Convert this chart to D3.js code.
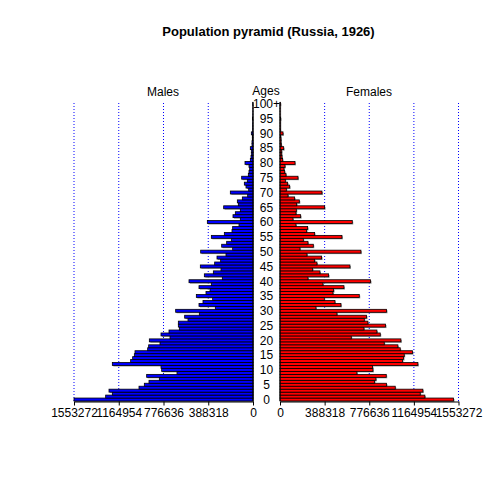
<!DOCTYPE html>
<html><head><meta charset="utf-8">
<script src="https://cdn.jsdelivr.net/npm/d3@7"></script>
<style>body{margin:0;background:#fff} svg{display:block} text{font-family:"Liberation Sans",Arial,Helvetica,sans-serif;}</style>
</head><body>
<svg id="c" width="504" height="504"></svg>
<script>
const title = "Population pyramid (Russia, 1926)";
const ages = d3.range(0, 101);
const ageLabelAges = d3.range(0, 101, 5);
const ageLabels = ageLabelAges.map(a => a === 100 ? "100+" : String(a));
const males = [1553272, 1278485, 1220635, 1249560, 989235, 942955, 902460, 812793, 922708, 659490,
 792545, 798330, 1220635, 1061548, 1044193, 1029730, 1023945, 914030, 905353, 807008,
 899568, 720233, 798330, 728910, 639243, 647920, 647920, 564038, 592963, 465693,
 671060, 326853, 468585, 433875, 349993, 491725, 407843, 373133, 468585, 361563,
 555360, 266110, 422305, 344208, 277680, 457015, 332638, 280573, 312390, 234293,
 454123, 176443, 271895, 228508, 188013, 361563, 248755, 182228, 176443, 121485,
 396273, 109915, 173550, 153303, 109915, 254540, 127270, 135948, 92560, 46280,
 196690, 37603, 60743, 75205, 49173, 98345, 40500, 34700, 28900, 34700,
 69420, 23140, 17355, 14460, 14460, 23140, 8680, 8680, 5785, 5785,
 14460, 2890, 2890, 2890, 2000, 4300, 1500, 1200, 1000, 800, 2500];
const females = [1509858, 1260630, 1220058, 1243242, 1002708, 927360, 823032, 834624, 924462, 669438,
 808542, 805644, 1199772, 1066464, 1075158, 1080954, 1153404, 1046178, 1025892, 907074,
 1051974, 620172, 872298, 843318, 730296, 918666, 765072, 733194, 753480, 495558,
 927360, 312984, 530334, 478170, 385434, 689724, 460782, 466578, 556416, 373842,
 788256, 243432, 423108, 347760, 284004, 608580, 321678, 301392, 362250, 234738,
 704214, 173880, 289800, 243432, 202860, 539028, 301392, 231840, 240534, 139104,
 628866, 113022, 179676, 139104, 142002, 388332, 144900, 168084, 127512, 69552,
 365148, 55062, 84042, 66654, 46368, 156492, 52164, 40572, 34776, 43470,
 130410, 23184, 17388, 14490, 14490, 31878, 11592, 8694, 8694, 5796,
 26082, 4347, 2898, 2898, 2898, 5796, 1449, 1449, 1449, 1449, 4347];
const tickValues = [0, 388318, 776636, 1164954, 1553272];

const svg = d3.select("#c");
const y = d3.scaleBand().domain(ages).range([401, 102.3]).paddingInner(0);
const bw = y.bandwidth();
const xl = d3.scaleLinear().domain([0, 1553272]).range([253, 74]);
const xr = d3.scaleLinear().domain([0, 1553272]).range([280, 458.5]);

// gridlines
const grid = svg.append("g");
tickValues.slice(1).forEach(t => {
  [xl(t), xr(t)].forEach(xx => {
    grid.append("line").attr("x1", xx).attr("x2", xx).attr("y1", 103).attr("y2", 401)
      .attr("stroke", "#0000ff").attr("stroke-width", 1).attr("stroke-dasharray", "1,2");
  });
});

// shadows
svg.append("g").selectAll("rect").data(ages).join("rect")
  .attr("x", a => xl(males[a]) + 1).attr("y", a => y(a) + 1)
  .attr("width", a => 253 - xl(males[a])).attr("height", bw)
  .attr("fill", "#999");
svg.append("g").selectAll("rect").data(ages).join("rect")
  .attr("x", xr(0) + 1).attr("y", a => y(a) + 1)
  .attr("width", a => xr(females[a]) - xr(0)).attr("height", bw)
  .attr("fill", "#999");

// bars
svg.append("g").selectAll("rect").data(ages).join("rect")
  .attr("x", a => xl(males[a])).attr("y", a => y(a))
  .attr("width", a => 253 - xl(males[a])).attr("height", bw)
  .attr("fill", "#0000ff").attr("stroke", "#000").attr("stroke-width", 0.8);
svg.append("g").selectAll("rect").data(ages).join("rect")
  .attr("x", xr(0)).attr("y", a => y(a))
  .attr("width", a => xr(females[a]) - xr(0)).attr("height", bw)
  .attr("fill", "#ff0000").attr("stroke", "#000").attr("stroke-width", 0.8);

// zero lines
[xl(0), xr(0)].forEach(xx => {
  svg.append("line").attr("x1", xx).attr("x2", xx).attr("y1", 102.3).attr("y2", 401)
    .attr("stroke", "#000").attr("stroke-width", 1);
});

// age labels
svg.append("g").selectAll("text").data(ageLabelAges).join("text")
  .attr("x", 266.5).attr("y", a => y(a) + bw / 2)
  .attr("dy", "0.36em").attr("text-anchor", "middle")
  .attr("font-size", 12).attr("fill", "#000")
  .text((a, i) => ageLabels[i]);

// bottom axes
function drawAxis(scale) {
  const g = svg.append("g").attr("transform", "translate(0,401.5)")
    .call(d3.axisBottom(scale).tickValues(tickValues).tickSizeInner(4).tickSizeOuter(0).tickPadding(3).tickFormat(d3.format("d")));
  g.select(".domain").attr("stroke", "#000");
  g.selectAll(".tick line").attr("stroke", "#000");
  g.selectAll("text").attr("font-size", 12).attr("fill", "#000")
    .style("font-family", '"Liberation Sans",Arial,Helvetica,sans-serif');
}
drawAxis(xl);
drawAxis(xr);

// titles
svg.append("text").attr("x", 268.5).attr("y", 36).attr("text-anchor", "middle")
  .attr("font-size", 13).attr("font-weight", "bold").text(title);
svg.append("text").attr("x", 163).attr("y", 96).attr("text-anchor", "middle").attr("font-size", 12).text("Males");
svg.append("text").attr("x", 266).attr("y", 94.5).attr("text-anchor", "middle").attr("font-size", 12).text("Ages");
svg.append("text").attr("x", 369).attr("y", 96).attr("text-anchor", "middle").attr("font-size", 12).text("Females");
</script>
</body></html>
